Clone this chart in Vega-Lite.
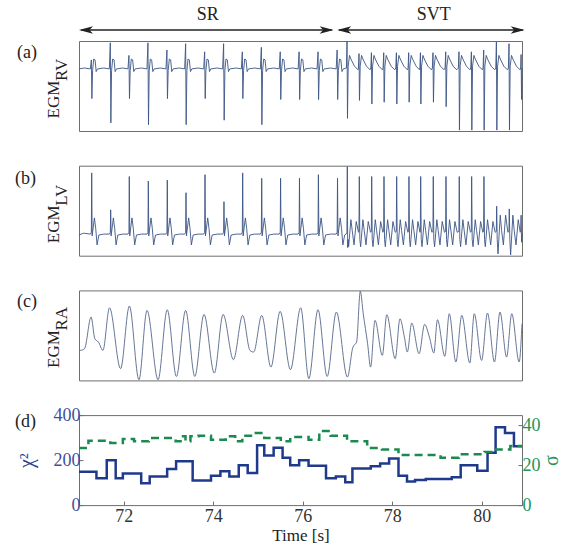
{
"$schema": "https://vega.github.io/schema/vega-lite/v6.json",
"padding": {"left": 14, "top": 5, "right": 5, "bottom": 5},
"spacing": 34.7,
"bounds": "flush",
"config": {
  "font": "Liberation Serif",
  "view": {"stroke": "#6e6e6e", "strokeWidth": 1},
  "axis": {"labelFont": "Liberation Serif", "titleFont": "Liberation Serif", "labelFontSize": 18, "titleFontSize": 17, "titleFontWeight": "normal", "grid": false, "domainColor": "#6e6e6e", "tickColor": "#6e6e6e", "labelColor": "#333333", "titleColor": "#222222"},
  "title": {"font": "Liberation Serif", "fontSize": 18, "fontWeight": "normal", "color": "#222222"}
},
"datasets": {
"rv": [
{"t":71.0,"v":0.69},{"t":71.12,"v":0.70},
{"t":71.254,"v":0.69},{"t":71.276,"v":0.79},{"t":71.288,"v":0.36},{"t":71.304,"v":0.67},{"t":71.329,"v":0.80},{"t":71.359,"v":0.79},{"t":71.384,"v":0.66},{"t":71.414,"v":0.69},{"t":71.554,"v":0.70},
{"t":71.678,"v":0.69},{"t":71.700,"v":0.98},{"t":71.712,"v":0.09},{"t":71.728,"v":0.67},{"t":71.753,"v":0.80},{"t":71.783,"v":0.79},{"t":71.808,"v":0.66},{"t":71.838,"v":0.69},{"t":71.978,"v":0.70},
{"t":72.094,"v":0.69},{"t":72.116,"v":0.84},{"t":72.128,"v":0.36},{"t":72.144,"v":0.67},{"t":72.169,"v":0.80},{"t":72.199,"v":0.79},{"t":72.224,"v":0.66},{"t":72.254,"v":0.69},{"t":72.394,"v":0.70},
{"t":72.519,"v":0.69},{"t":72.541,"v":0.98},{"t":72.553,"v":0.07},{"t":72.569,"v":0.67},{"t":72.594,"v":0.80},{"t":72.624,"v":0.79},{"t":72.649,"v":0.66},{"t":72.679,"v":0.69},{"t":72.819,"v":0.70},
{"t":72.943,"v":0.69},{"t":72.965,"v":0.90},{"t":72.977,"v":0.36},{"t":72.993,"v":0.67},{"t":73.018,"v":0.80},{"t":73.048,"v":0.79},{"t":73.073,"v":0.66},{"t":73.103,"v":0.69},{"t":73.243,"v":0.70},
{"t":73.361,"v":0.69},{"t":73.383,"v":0.97},{"t":73.395,"v":0.07},{"t":73.411,"v":0.67},{"t":73.436,"v":0.80},{"t":73.466,"v":0.79},{"t":73.491,"v":0.66},{"t":73.521,"v":0.69},{"t":73.661,"v":0.70},
{"t":73.786,"v":0.69},{"t":73.808,"v":0.88},{"t":73.820,"v":0.36},{"t":73.836,"v":0.67},{"t":73.861,"v":0.80},{"t":73.891,"v":0.79},{"t":73.916,"v":0.66},{"t":73.946,"v":0.69},{"t":74.086,"v":0.70},
{"t":74.210,"v":0.69},{"t":74.232,"v":0.97},{"t":74.244,"v":0.12},{"t":74.260,"v":0.67},{"t":74.285,"v":0.80},{"t":74.315,"v":0.79},{"t":74.340,"v":0.66},{"t":74.370,"v":0.69},{"t":74.510,"v":0.70},
{"t":74.628,"v":0.69},{"t":74.650,"v":0.88},{"t":74.662,"v":0.36},{"t":74.678,"v":0.67},{"t":74.703,"v":0.80},{"t":74.733,"v":0.79},{"t":74.758,"v":0.66},{"t":74.788,"v":0.69},{"t":74.928,"v":0.70},
{"t":75.053,"v":0.69},{"t":75.075,"v":0.93},{"t":75.087,"v":0.07},{"t":75.103,"v":0.67},{"t":75.128,"v":0.80},{"t":75.158,"v":0.79},{"t":75.183,"v":0.66},{"t":75.213,"v":0.69},{"t":75.353,"v":0.70},
{"t":75.475,"v":0.69},{"t":75.497,"v":0.88},{"t":75.509,"v":0.35},{"t":75.525,"v":0.67},{"t":75.550,"v":0.80},{"t":75.580,"v":0.79},{"t":75.605,"v":0.66},{"t":75.635,"v":0.69},{"t":75.775,"v":0.70},
{"t":75.897,"v":0.69},{"t":75.919,"v":0.88},{"t":75.931,"v":0.35},{"t":75.947,"v":0.67},{"t":75.972,"v":0.80},{"t":76.002,"v":0.79},{"t":76.027,"v":0.66},{"t":76.057,"v":0.69},{"t":76.197,"v":0.70},
{"t":76.320,"v":0.69},{"t":76.342,"v":0.88},{"t":76.354,"v":0.35},{"t":76.370,"v":0.67},{"t":76.395,"v":0.80},{"t":76.425,"v":0.79},{"t":76.450,"v":0.66},{"t":76.480,"v":0.69},{"t":76.620,"v":0.70},
{"t":76.747,"v":0.69},{"t":76.769,"v":0.90},{"t":76.781,"v":0.35},{"t":76.797,"v":0.67},{"t":76.822,"v":0.80},{"t":76.852,"v":0.79},{"t":76.877,"v":0.66},{"t":76.907,"v":0.69},
{"t":76.976,"v":0.70},{"t":76.990,"v":1.0},{"t":77.000,"v":0.14},{"t":77.016,"v":0.72},{"t":77.046,"v":0.84},{"t":77.076,"v":0.80},{"t":77.156,"v":0.72},{"t":77.236,"v":0.68},
{"t":77.244,"v":0.70},{"t":77.258,"v":0.86},{"t":77.268,"v":0.34},{"t":77.284,"v":0.72},{"t":77.314,"v":0.84},{"t":77.344,"v":0.80},{"t":77.424,"v":0.72},{"t":77.504,"v":0.68},
{"t":77.521,"v":0.70},{"t":77.535,"v":0.87},{"t":77.545,"v":0.30},{"t":77.561,"v":0.72},{"t":77.591,"v":0.84},{"t":77.621,"v":0.80},{"t":77.701,"v":0.72},{"t":77.781,"v":0.68},
{"t":77.796,"v":0.70},{"t":77.810,"v":0.87},{"t":77.820,"v":0.32},{"t":77.836,"v":0.72},{"t":77.866,"v":0.84},{"t":77.896,"v":0.80},{"t":77.976,"v":0.72},{"t":78.056,"v":0.68},
{"t":78.079,"v":0.70},{"t":78.093,"v":0.87},{"t":78.103,"v":0.30},{"t":78.119,"v":0.72},{"t":78.149,"v":0.84},{"t":78.179,"v":0.80},{"t":78.259,"v":0.72},{"t":78.339,"v":0.68},
{"t":78.354,"v":0.70},{"t":78.368,"v":0.87},{"t":78.378,"v":0.32},{"t":78.394,"v":0.72},{"t":78.424,"v":0.84},{"t":78.454,"v":0.80},{"t":78.534,"v":0.72},{"t":78.610,"v":0.68},
{"t":78.618,"v":0.70},{"t":78.630,"v":0.87},{"t":78.640,"v":0.30},{"t":78.656,"v":0.72},{"t":78.686,"v":0.84},{"t":78.716,"v":0.80},{"t":78.796,"v":0.72},{"t":78.876,"v":0.68},
{"t":78.897,"v":0.70},{"t":78.911,"v":0.87},{"t":78.921,"v":0.32},{"t":78.937,"v":0.72},{"t":78.967,"v":0.84},{"t":78.997,"v":0.80},{"t":79.077,"v":0.72},{"t":79.157,"v":0.68},
{"t":79.181,"v":0.70},{"t":79.195,"v":0.88},{"t":79.205,"v":0.27},{"t":79.221,"v":0.72},{"t":79.251,"v":0.84},{"t":79.281,"v":0.80},{"t":79.361,"v":0.72},{"t":79.441,"v":0.68},
{"t":79.478,"v":0.70},{"t":79.492,"v":0.88},{"t":79.502,"v":0.01},{"t":79.518,"v":0.72},{"t":79.548,"v":0.84},{"t":79.578,"v":0.80},{"t":79.658,"v":0.72},{"t":79.738,"v":0.68},
{"t":79.755,"v":0.70},{"t":79.769,"v":0.88},{"t":79.779,"v":0.01},{"t":79.795,"v":0.72},{"t":79.825,"v":0.84},{"t":79.855,"v":0.80},{"t":79.935,"v":0.72},{"t":80.015,"v":0.68},
{"t":80.030,"v":0.70},{"t":80.044,"v":0.90},{"t":80.054,"v":0.01},{"t":80.070,"v":0.72},{"t":80.100,"v":0.84},{"t":80.130,"v":0.80},{"t":80.210,"v":0.72},{"t":80.290,"v":0.68},
{"t":80.314,"v":0.70},{"t":80.328,"v":0.99},{"t":80.338,"v":0.01},{"t":80.354,"v":0.72},{"t":80.384,"v":0.84},{"t":80.414,"v":0.80},{"t":80.494,"v":0.72},{"t":80.574,"v":0.68},
{"t":80.596,"v":0.70},{"t":80.610,"v":0.97},{"t":80.620,"v":0.01},{"t":80.636,"v":0.72},{"t":80.666,"v":0.84},{"t":80.696,"v":0.80},{"t":80.776,"v":0.72},{"t":80.856,"v":0.68},
{"t":80.870,"v":0.70},{"t":80.880,"v":0.85},{"t":80.890,"v":0.35},{"t":80.9,"v":0.70}
],
"lv": [
{"t":71.0,"v":0.23},{"t":71.1,"v":0.25},
{"t":71.254,"v":0.24},{"t":71.276,"v":0.26},{"t":71.284,"v":0.92},{"t":71.294,"v":0.22},{"t":71.344,"v":0.42},{"t":71.374,"v":0.30},{"t":71.404,"v":0.12},{"t":71.444,"v":0.23},{"t":71.554,"v":0.24},
{"t":71.678,"v":0.24},{"t":71.700,"v":0.26},{"t":71.708,"v":0.51},{"t":71.718,"v":0.22},{"t":71.768,"v":0.42},{"t":71.798,"v":0.30},{"t":71.828,"v":0.12},{"t":71.868,"v":0.23},{"t":71.978,"v":0.24},
{"t":72.094,"v":0.24},{"t":72.116,"v":0.26},{"t":72.124,"v":0.88},{"t":72.134,"v":0.22},{"t":72.184,"v":0.42},{"t":72.214,"v":0.30},{"t":72.244,"v":0.12},{"t":72.284,"v":0.23},{"t":72.394,"v":0.24},
{"t":72.519,"v":0.24},{"t":72.541,"v":0.26},{"t":72.549,"v":0.83},{"t":72.559,"v":0.22},{"t":72.609,"v":0.42},{"t":72.639,"v":0.30},{"t":72.669,"v":0.12},{"t":72.709,"v":0.23},{"t":72.819,"v":0.24},
{"t":72.943,"v":0.24},{"t":72.965,"v":0.26},{"t":72.973,"v":0.84},{"t":72.983,"v":0.22},{"t":73.033,"v":0.42},{"t":73.063,"v":0.30},{"t":73.093,"v":0.12},{"t":73.133,"v":0.23},{"t":73.243,"v":0.24},
{"t":73.361,"v":0.24},{"t":73.383,"v":0.26},{"t":73.391,"v":0.70},{"t":73.401,"v":0.22},{"t":73.451,"v":0.42},{"t":73.481,"v":0.30},{"t":73.511,"v":0.12},{"t":73.551,"v":0.23},{"t":73.661,"v":0.24},
{"t":73.786,"v":0.24},{"t":73.808,"v":0.26},{"t":73.816,"v":0.90},{"t":73.826,"v":0.22},{"t":73.876,"v":0.42},{"t":73.906,"v":0.30},{"t":73.936,"v":0.12},{"t":73.976,"v":0.23},{"t":74.086,"v":0.24},
{"t":74.210,"v":0.24},{"t":74.232,"v":0.26},{"t":74.240,"v":0.60},{"t":74.250,"v":0.22},{"t":74.300,"v":0.42},{"t":74.330,"v":0.30},{"t":74.360,"v":0.12},{"t":74.400,"v":0.23},{"t":74.510,"v":0.24},
{"t":74.628,"v":0.24},{"t":74.650,"v":0.26},{"t":74.658,"v":0.92},{"t":74.668,"v":0.22},{"t":74.718,"v":0.42},{"t":74.748,"v":0.30},{"t":74.778,"v":0.12},{"t":74.818,"v":0.23},{"t":74.928,"v":0.24},
{"t":75.053,"v":0.24},{"t":75.075,"v":0.26},{"t":75.083,"v":0.86},{"t":75.093,"v":0.22},{"t":75.143,"v":0.42},{"t":75.173,"v":0.30},{"t":75.203,"v":0.12},{"t":75.243,"v":0.23},{"t":75.353,"v":0.24},
{"t":75.475,"v":0.24},{"t":75.497,"v":0.26},{"t":75.505,"v":0.86},{"t":75.515,"v":0.22},{"t":75.565,"v":0.42},{"t":75.595,"v":0.30},{"t":75.625,"v":0.12},{"t":75.665,"v":0.23},{"t":75.775,"v":0.24},
{"t":75.897,"v":0.24},{"t":75.919,"v":0.26},{"t":75.927,"v":0.86},{"t":75.937,"v":0.22},{"t":75.987,"v":0.42},{"t":76.017,"v":0.30},{"t":76.047,"v":0.12},{"t":76.087,"v":0.23},{"t":76.197,"v":0.24},
{"t":76.320,"v":0.24},{"t":76.342,"v":0.26},{"t":76.350,"v":0.90},{"t":76.360,"v":0.22},{"t":76.410,"v":0.42},{"t":76.440,"v":0.30},{"t":76.470,"v":0.12},{"t":76.510,"v":0.23},{"t":76.620,"v":0.24},
{"t":76.747,"v":0.24},{"t":76.769,"v":0.26},{"t":76.777,"v":0.86},{"t":76.787,"v":0.22},{"t":76.837,"v":0.42},{"t":76.867,"v":0.30},{"t":76.897,"v":0.12},{"t":76.937,"v":0.23},{"t":76.970,"v":0.24},
{"t":76.988,"v":0.26},{"t":76.996,"v":0.99},{"t":77.004,"v":0.09},{"t":77.016,"v":0.18},{"t":77.026,"v":0.10},{"t":77.076,"v":0.40},{"t":77.106,"v":0.28},{"t":77.146,"v":0.12},{"t":77.196,"v":0.38},{"t":77.246,"v":0.26},
{"t":77.256,"v":0.27},{"t":77.264,"v":0.88},{"t":77.276,"v":0.18},{"t":77.294,"v":0.10},{"t":77.344,"v":0.40},{"t":77.374,"v":0.28},{"t":77.414,"v":0.12},{"t":77.464,"v":0.38},{"t":77.514,"v":0.26},
{"t":77.533,"v":0.27},{"t":77.541,"v":0.88},{"t":77.553,"v":0.18},{"t":77.571,"v":0.10},{"t":77.621,"v":0.40},{"t":77.651,"v":0.28},{"t":77.691,"v":0.12},{"t":77.741,"v":0.38},{"t":77.791,"v":0.26},
{"t":77.808,"v":0.27},{"t":77.816,"v":0.88},{"t":77.828,"v":0.18},{"t":77.846,"v":0.10},{"t":77.896,"v":0.40},{"t":77.926,"v":0.28},{"t":77.966,"v":0.12},{"t":78.016,"v":0.38},{"t":78.066,"v":0.26},
{"t":78.091,"v":0.27},{"t":78.099,"v":0.88},{"t":78.111,"v":0.18},{"t":78.129,"v":0.10},{"t":78.179,"v":0.40},{"t":78.209,"v":0.28},{"t":78.249,"v":0.12},{"t":78.299,"v":0.38},{"t":78.349,"v":0.26},
{"t":78.366,"v":0.27},{"t":78.374,"v":0.88},{"t":78.386,"v":0.18},{"t":78.404,"v":0.10},{"t":78.454,"v":0.40},{"t":78.484,"v":0.28},{"t":78.524,"v":0.12},{"t":78.574,"v":0.38},{"t":78.620,"v":0.26},
{"t":78.628,"v":0.27},{"t":78.636,"v":0.88},{"t":78.648,"v":0.18},{"t":78.666,"v":0.10},{"t":78.716,"v":0.40},{"t":78.746,"v":0.28},{"t":78.786,"v":0.12},{"t":78.836,"v":0.38},{"t":78.886,"v":0.26},
{"t":78.909,"v":0.27},{"t":78.917,"v":0.88},{"t":78.929,"v":0.18},{"t":78.947,"v":0.10},{"t":78.997,"v":0.40},{"t":79.027,"v":0.28},{"t":79.067,"v":0.12},{"t":79.117,"v":0.38},{"t":79.167,"v":0.26},
{"t":79.193,"v":0.27},{"t":79.201,"v":0.88},{"t":79.213,"v":0.18},{"t":79.231,"v":0.10},{"t":79.281,"v":0.40},{"t":79.311,"v":0.28},{"t":79.351,"v":0.12},{"t":79.401,"v":0.38},{"t":79.451,"v":0.26},
{"t":79.490,"v":0.27},{"t":79.498,"v":0.88},{"t":79.510,"v":0.18},{"t":79.528,"v":0.10},{"t":79.578,"v":0.40},{"t":79.608,"v":0.28},{"t":79.648,"v":0.12},{"t":79.698,"v":0.38},{"t":79.748,"v":0.26},
{"t":79.767,"v":0.27},{"t":79.775,"v":0.88},{"t":79.787,"v":0.18},{"t":79.805,"v":0.10},{"t":79.855,"v":0.40},{"t":79.885,"v":0.28},{"t":79.925,"v":0.12},{"t":79.975,"v":0.38},{"t":80.025,"v":0.26},
{"t":80.042,"v":0.27},{"t":80.050,"v":0.88},{"t":80.062,"v":0.18},{"t":80.080,"v":0.10},{"t":80.130,"v":0.40},{"t":80.160,"v":0.28},{"t":80.200,"v":0.12},{"t":80.250,"v":0.38},{"t":80.300,"v":0.26},
{"t":80.326,"v":0.27},{"t":80.334,"v":0.55},{"t":80.346,"v":0.18},{"t":80.364,"v":0.02},{"t":80.414,"v":0.45},{"t":80.444,"v":0.28},{"t":80.484,"v":0.12},{"t":80.534,"v":0.45},{"t":80.584,"v":0.26},
{"t":80.608,"v":0.27},{"t":80.616,"v":0.52},{"t":80.628,"v":0.18},{"t":80.646,"v":0.01},{"t":80.696,"v":0.45},{"t":80.726,"v":0.28},{"t":80.766,"v":0.12},{"t":80.816,"v":0.40},{"t":80.860,"v":0.26},
{"t":80.870,"v":0.27},{"t":80.880,"v":0.45},{"t":80.890,"v":0.15},{"t":80.9,"v":0.25}
],
"ra": [
{"t":71.025,"v":0.333},{"t":71.123,"v":0.352},{"t":71.271,"v":0.704},{"t":71.353,"v":0.463},{"t":71.435,"v":0.426},{"t":71.534,"v":0.333},{"t":71.682,"v":0.807},{"t":71.929,"v":0.130},{"t":72.126,"v":0.826},{"t":72.339,"v":0.007},{"t":72.520,"v":0.778},{"t":72.767,"v":0.007},{"t":72.972,"v":0.785},{"t":73.177,"v":0.044},{"t":73.383,"v":0.778},{"t":73.588,"v":0.044},{"t":73.794,"v":0.733},{"t":74.024,"v":0.081},{"t":74.221,"v":0.733},{"t":74.451,"v":0.230},{"t":74.657,"v":0.722},{"t":74.821,"v":0.333},{"t":74.903,"v":0.315},{"t":75.084,"v":0.722},{"t":75.289,"v":0.148},{"t":75.495,"v":0.767},{"t":75.725,"v":0.119},{"t":75.955,"v":0.807},{"t":76.136,"v":0.019},{"t":76.341,"v":0.785},{"t":76.546,"v":0.044},{"t":76.752,"v":0.759},{"t":76.998,"v":0.037},{"t":77.122,"v":0.370},{"t":77.204,"v":0.426},{"t":77.286,"v":0.99},{"t":77.352,"v":0.741},{"t":77.450,"v":0.407},{"t":77.516,"v":0.148},{"t":77.615,"v":0.667},{"t":77.779,"v":0.278},{"t":77.878,"v":0.730},{"t":78.067,"v":0.241},{"t":78.173,"v":0.685},{"t":78.272,"v":0.481},{"t":78.337,"v":0.315},{"t":78.436,"v":0.637},{"t":78.600,"v":0.296},{"t":78.724,"v":0.622},{"t":78.831,"v":0.481},{"t":78.929,"v":0.304},{"t":79.011,"v":0.674},{"t":79.176,"v":0.267},{"t":79.274,"v":0.741},{"t":79.422,"v":0.204},{"t":79.554,"v":0.722},{"t":79.734,"v":0.193},{"t":79.833,"v":0.741},{"t":79.997,"v":0.222},{"t":80.129,"v":0.748},{"t":80.285,"v":0.204},{"t":80.408,"v":0.759},{"t":80.556,"v":0.259},{"t":80.671,"v":0.741},{"t":80.836,"v":0.204},{"t":80.9,"v":0.630}
],
"chi": [
{"t":71.0,"c":148},{"t":71.39,"c":119},{"t":71.62,"c":199},{"t":71.82,"c":119},{"t":71.98,"c":141},{"t":72.39,"c":97},{"t":72.58,"c":127},{"t":72.97,"c":160},{"t":73.17,"c":195},{"t":73.54,"c":109},{"t":73.95,"c":131},{"t":74.16,"c":151},{"t":74.36,"c":127},{"t":74.57,"c":177},{"t":74.77,"c":143},{"t":74.98,"c":266},{"t":75.14,"c":221},{"t":75.35,"c":255},{"t":75.55,"c":211},{"t":75.72,"c":177},{"t":75.92,"c":199},{"t":76.13,"c":175},{"t":76.52,"c":119},{"t":76.74,"c":127},{"t":76.95,"c":102},{"t":77.11,"c":163},{"t":77.52,"c":173},{"t":77.73,"c":185},{"t":77.93,"c":207},{"t":78.14,"c":131},{"t":78.33,"c":105},{"t":78.51,"c":112},{"t":78.75,"c":116},{"t":79.33,"c":124},{"t":79.53,"c":177},{"t":79.90,"c":153},{"t":80.13,"c":233},{"t":80.31,"c":346},{"t":80.52,"c":320},{"t":80.72,"c":262},{"t":80.9,"c":262}
],
"sig": [
{"t":71.0,"s":28.6},{"t":71.21,"s":32.2},{"t":71.70,"s":31.1},{"t":71.98,"s":33.1},{"t":72.23,"s":31.9},{"t":72.56,"s":33.5},{"t":73.16,"s":31.9},{"t":73.27,"s":34.4},{"t":73.38,"s":31.9},{"t":73.49,"s":34.4},{"t":73.67,"s":34.7},{"t":73.95,"s":32.7},{"t":74.28,"s":34.4},{"t":74.49,"s":31.9},{"t":74.65,"s":34.7},{"t":74.90,"s":36.0},{"t":75.14,"s":33.5},{"t":75.51,"s":31.9},{"t":75.72,"s":34.0},{"t":76.13,"s":32.7},{"t":76.37,"s":37.1},{"t":76.62,"s":34.7},{"t":76.99,"s":31.9},{"t":77.44,"s":28.6},{"t":77.77,"s":27.8},{"t":78.14,"s":25.0},{"t":79.08,"s":23.7},{"t":79.49,"s":25.4},{"t":80.06,"s":26.5},{"t":80.27,"s":27.8},{"t":80.64,"s":29.5},{"t":80.9,"s":29.5}
]
},
"vconcat": [
{
  "width": 443, "height": 90,
  "title": {"text": "(a)", "orient": "left", "anchor": "end", "frame": "group", "angle": 0, "align": "right", "baseline": "top", "offset": -13, "dy": 3},
  "layer": [
    {"data": {"name": "rv"}, "mark": {"type": "line", "color": "#3b5585", "strokeWidth": 0.9},
     "encoding": {
       "x": {"field": "t", "type": "quantitative", "scale": {"domain": [71, 80.9], "nice": false, "zero": false}, "axis": null},
       "y": {"field": "v", "type": "quantitative", "scale": {"domain": [0, 1], "nice": false, "zero": false},
             "axis": {"title": ["EGM", "\u200b\u2002\u2002\u2002\u2002\u2009RV"], "domain": false, "ticks": false, "labels": false, "titleAngle": 270, "titleAlign": "left", "titleBaseline": "bottom", "titleX": -17, "titleY": 77, "titleLineHeight": 8}}}},
    {"data": {"values": [{"x1": 71.05, "x2": 76.65, "y": 1.122}, {"x1": 76.81, "x2": 80.92, "y": 1.122}]},
     "mark": {"type": "rule", "color": "#222222", "strokeWidth": 1.3},
     "encoding": {"x": {"field": "x1", "type": "quantitative"}, "x2": {"field": "x2"}, "y": {"field": "y", "type": "quantitative"}}},
    {"data": {"values": [{"x": 71.156, "y": 1.122, "s": "M-1,0L1,-0.55L0.5,0L1,0.55Z"}, {"x": 76.534, "y": 1.122, "s": "M1,0L-1,-0.55L-0.5,0L-1,0.55Z"}, {"x": 76.926, "y": 1.122, "s": "M-1,0L1,-0.55L0.5,0L1,0.55Z"}, {"x": 80.804, "y": 1.122, "s": "M1,0L-1,-0.55L-0.5,0L-1,0.55Z"}]},
     "mark": {"type": "point", "filled": true, "color": "#222222", "opacity": 1, "size": 196},
     "encoding": {"x": {"field": "x", "type": "quantitative"}, "y": {"field": "y", "type": "quantitative"}, "shape": {"field": "s", "type": "nominal", "scale": null}}},
    {"data": {"values": [{"x": 73.88, "y": 1.289, "label": "SR"}, {"x": 78.93, "y": 1.289, "label": "SVT"}]},
     "mark": {"type": "text", "fontSize": 18, "font": "Liberation Serif", "color": "#222222", "baseline": "middle"},
     "encoding": {"x": {"field": "x", "type": "quantitative"}, "y": {"field": "y", "type": "quantitative"}, "text": {"field": "label"}}}
  ]
},
{
  "width": 443, "height": 90,
  "title": {"text": "(b)", "orient": "left", "anchor": "end", "frame": "group", "angle": 0, "align": "right", "baseline": "top", "offset": -13, "dy": 4},
  "data": {"name": "lv"},
  "mark": {"type": "line", "color": "#3b5585", "strokeWidth": 0.9},
  "encoding": {
    "x": {"field": "t", "type": "quantitative", "scale": {"domain": [71, 80.9], "nice": false, "zero": false}, "axis": null},
    "y": {"field": "v", "type": "quantitative", "scale": {"domain": [0, 1], "nice": false, "zero": false},
          "axis": {"title": ["EGM", "\u200b\u2002\u2002\u2002\u2002\u2009LV"], "domain": false, "ticks": false, "labels": false, "titleAngle": 270, "titleAlign": "left", "titleBaseline": "bottom", "titleX": -17, "titleY": 77, "titleLineHeight": 8}}}
},
{
  "width": 443, "height": 90,
  "title": {"text": "(c)", "orient": "left", "anchor": "end", "frame": "group", "angle": 0, "align": "right", "baseline": "top", "offset": -13, "dy": 3},
  "data": {"name": "ra"},
  "mark": {"type": "line", "color": "#56678a", "strokeWidth": 0.9, "interpolate": "monotone"},
  "encoding": {
    "x": {"field": "t", "type": "quantitative", "scale": {"domain": [71, 80.9], "nice": false, "zero": false}, "axis": null},
    "y": {"field": "v", "type": "quantitative", "scale": {"domain": [0, 1], "nice": false, "zero": false},
          "axis": {"title": ["EGM", "\u200b\u2002\u2002\u2002\u2002\u2009RA"], "domain": false, "ticks": false, "labels": false, "titleAngle": 270, "titleAlign": "left", "titleBaseline": "bottom", "titleX": -17, "titleY": 77, "titleLineHeight": 8}}}
},
{
  "width": 443, "height": 90,
  "title": {"text": "(d)", "orient": "left", "anchor": "end", "frame": "group", "angle": 0, "align": "right", "baseline": "top", "offset": -41, "dy": -2},
  "layer": [
    {"data": {"name": "chi"}, "mark": {"type": "line", "interpolate": "step-after", "color": "#1f3a8a", "strokeWidth": 2.5},
     "encoding": {
       "x": {"field": "t", "type": "quantitative", "scale": {"domain": [71, 80.9], "nice": false, "zero": false},
             "axis": {"values": [72, 74, 76, 78, 80], "title": "Time [s]", "tickSize": -4, "labelPadding": 6, "titlePadding": 2, "domain": false}},
       "y": {"field": "c", "type": "quantitative", "scale": {"domain": [0, 400], "nice": false},
             "axis": {"values": [0, 200, 400], "title": "χ²", "tickSize": -4, "labelPadding": 3, "domain": false, "labelColor": "#3d4f9c", "titleColor": "#2b3f8f", "titleFontSize": 20, "titleAngle": 270, "titleX": -53, "titleY": 45, "titleAlign": "center", "titleBaseline": "middle"}}}},
    {"data": {"name": "sig"}, "mark": {"type": "line", "interpolate": "step-after", "color": "#1b8a4f", "strokeWidth": 2.5, "strokeDash": [8, 5]},
     "encoding": {
       "x": {"field": "t", "type": "quantitative"},
       "y": {"field": "s", "type": "quantitative", "scale": {"domain": [0, 45], "nice": false},
             "axis": {"orient": "right", "values": [0, 20, 40], "title": "σ", "titleAngle": 270, "titleX": 29, "titleY": 45, "titleAlign": "center", "titleBaseline": "middle", "tickSize": -4, "labelPadding": 4, "domain": false, "labelColor": "#22935a", "titleColor": "#22935a", "tickColor": "#22935a", "titleFontSize": 20}}}}
  ],
  "resolve": {"scale": {"y": "independent"}}
}
]
}
